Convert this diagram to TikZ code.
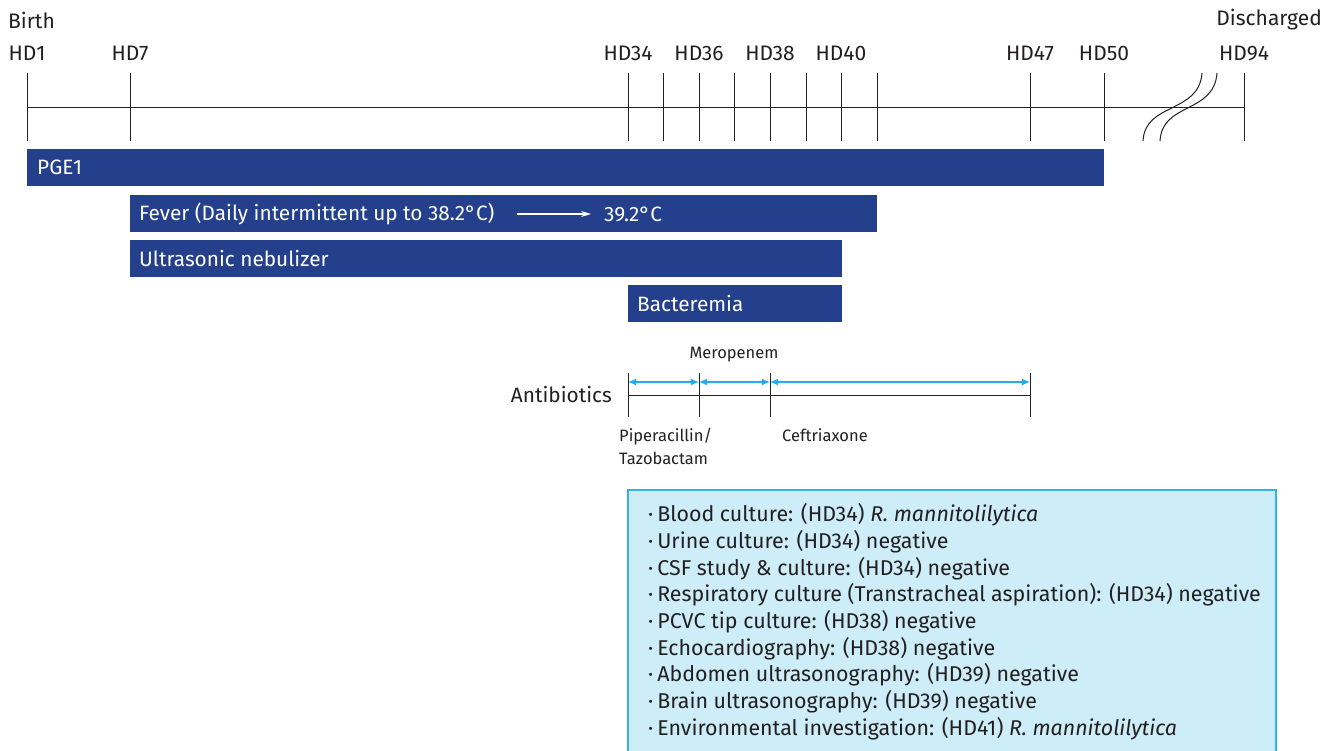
\documentclass[tikz,border=0pt]{standalone}
\usepackage{fontspec}
\setmainfont{Fira Sans}
\usetikzlibrary{arrows.meta}
\definecolor{barblue}{RGB}{36,63,140}
\definecolor{cyanarr}{RGB}{30,173,239}
\definecolor{boxfill}{RGB}{205,237,249}
\definecolor{boxline}{RGB}{47,180,233}
\definecolor{txt}{RGB}{35,31,32}
\tikzset{
  lbl/.style={font=\fontsize{21}{23}\selectfont, text=txt, inner sep=0pt},
  bar/.style={fill=barblue, draw=none, inner sep=0pt, minimum height=37pt, anchor=north west},
  bartxt/.style={font=\fontsize{20.8}{23}\selectfont, text=white, inner sep=0pt, anchor=west},
  tick/.style={line width=1pt, draw=txt},
  abx/.style={cyanarr, line width=1.3pt, {Latex[length=8pt,width=7pt]}-{Latex[length=8pt,width=7pt]}},
  small/.style={font=\fontsize{16.5}{18}\selectfont, text=txt, inner sep=0pt},
  item/.style={font=\fontsize{21.4}{23}\selectfont, text=txt, inner sep=0pt, anchor=west},
}
\begin{document}
\begin{tikzpicture}[x=1pt,y=-1pt]
\useasboundingbox (0,0) rectangle (1336,750);
% top labels
\node[lbl, anchor=west] (birth) at (8,20) {Birth};
\node[lbl, anchor=east] (disch) at (1322,20) {Discharged};
\foreach \n/\x in {HD1/27,HD7/130,HD34/628,HD36/699,HD38/770,HD40/841,HD47/1030,HD50/1104,HD94/1244}
  \node[lbl] (l\n) at (\x,53) {\n};
% axis
\coordinate (a0) at (27,107);
\coordinate (a1) at (1244,107);
\draw[tick] (a0) -- (a1);
\foreach \x [count=\i] in {27,130,628,663.5,699,734.5,770,806,841.5,877,1030,1104,1244}{
  \coordinate (tt\i) at (\x,73);
  \coordinate (tb\i) at (\x,141);
  \draw[tick] (tt\i) -- (tb\i);
}
% break marks
\coordinate (k1a) at (1143,141); \coordinate (k1b) at (1202,73);
\coordinate (k2a) at (1160,141); \coordinate (k2b) at (1217,73);
\draw[tick] (k1a) .. controls (1145,102) and (1199,114) .. (k1b);
\draw[tick] (k2a) .. controls (1162,102) and (1214,114) .. (k2b);
% bars
\node[bar, minimum width=1077pt] (pge) at (27,149) {};
\node[bartxt] (pget) at ([xshift=10pt]pge.west) {PGE1};
\node[bar, minimum width=747pt] (fever) at (130,195) {};
\node[bartxt] (fevert) at ([xshift=9pt]fever.west) {Fever (Daily intermittent up to 38.2°C)};
\coordinate (fa) at (517,214);
\coordinate (fb) at (591,214);
\draw[white, line width=1.2pt, -{Stealth[length=10pt,width=6pt]}] (fa) -- (fb);
\node[bartxt] (fever2) at (604,214) {39.2°C};
\node[bar, minimum width=712pt] (neb) at (130,240) {};
\node[bartxt] (nebt) at ([xshift=9pt]neb.west) {Ultrasonic nebulizer};
\node[bar, minimum width=214pt] (bac) at (628,285) {};
\node[bartxt] (bact) at ([xshift=9pt]bac.west) {Bacteremia};
% antibiotics
\node[lbl, anchor=east, font=\fontsize{20.8}{22}\selectfont] (abl) at (612,395) {Antibiotics};
\foreach \x [count=\i] in {628,699,770,1030}{
  \coordinate (at\i) at (\x,373);
  \coordinate (ab\i) at (\x,417);
  \coordinate (am\i) at (\x,382);
  \draw[tick] (at\i) -- (ab\i);
}
\coordinate (ah0) at (628,395); \coordinate (ah1) at (1030,395);
\draw[tick] (ah0) -- (ah1);
\draw[abx] (am1) -- (am2);
\draw[abx] (am2) -- (am3);
\draw[abx] (am3) -- (am4);
\node[small] (mero) at (734,355) {Meropenem};
\node[small, anchor=west, align=left, font=\fontsize{16.5}{23}\selectfont] (pip) at (619,446) {Piperacillin/\\Tazobactam};
\node[small, anchor=west] (cef) at (782,435) {Ceftriaxone};
% result box
\coordinate (bx0) at (628,751);
\coordinate (bx1) at (1276,751);
\fill[boxfill] (628,490) rectangle (1276,751);
\draw[boxline, line width=1.2pt] (bx0) |- (1276,490) -- (bx1);
\foreach \t [count=\i] in {
  Blood culture: (HD34) \textit{R. mannitolilytica},
  Urine culture: (HD34) negative,
  CSF study \& culture: (HD34) negative,
  Respiratory culture (Transtracheal aspiration): (HD34) negative,
  PCVC tip culture: (HD38) negative,
  Echocardiography: (HD38) negative,
  Abdomen ultrasonography: (HD39) negative,
  Brain ultrasonography: (HD39) negative,
  Environmental investigation: (HD41) \textit{R. mannitolilytica}}
  \node[item] (b\i) at (648,{515+26.7*(\i-1)}) {·\hspace{4pt}\t};
\end{tikzpicture}
\end{document}
